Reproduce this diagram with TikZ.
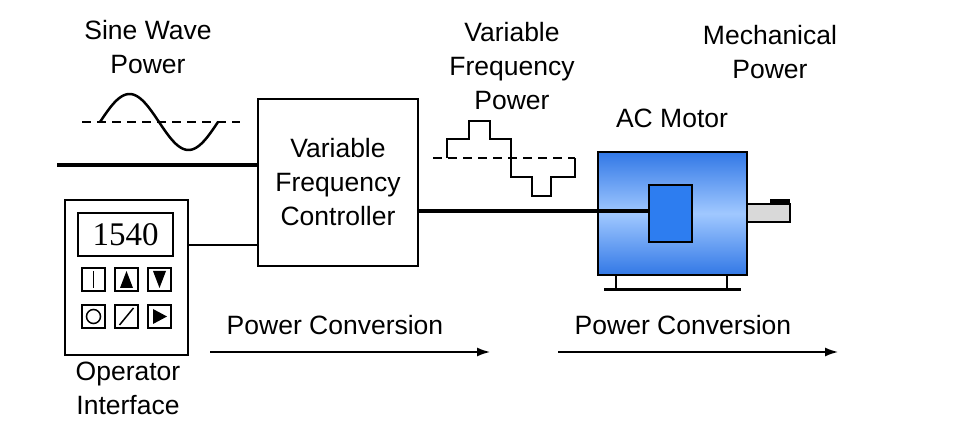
\documentclass[tikz,border=0pt]{standalone}
\usepackage{fontspec}
\setmainfont{Liberation Sans}
\newfontfamily\numserif{Liberation Serif}
\usetikzlibrary{arrows.meta}
\definecolor{mdark}{RGB}{50,120,230}
\definecolor{mlight}{RGB}{160,200,255}
\definecolor{rotc}{RGB}{45,125,240}
\begin{document}
\begin{tikzpicture}[x=1pt,y=-1pt,
  lbl/.style={font=\fontsize{26.5}{34}\selectfont,align=center},
  thick line/.style={line width=4pt},
  btn/.style={draw,line width=1.2pt,minimum width=23pt,minimum height=23pt,inner sep=0pt},
  arr/.style={line width=1.5pt,-{Latex[length=13pt,width=9pt]}}]
\useasboundingbox (0,0) rectangle (962,435);
% sine power
\node[lbl] (sw) at (148,47) {Sine Wave\\Power};
\draw[line width=1.5pt,dash pattern=on 9pt off 6pt] (82,122) -- (240,122);
\draw[line width=2.5pt,domain=0:118,samples=60,smooth] plot ({\x+100},{122-28*sin(\x*3.0508)});
% controller
\node[draw,line width=1.5pt,minimum width=160pt,minimum height=167pt,lbl,inner sep=0pt] (vfc) at (338,182.5) {Variable\\Frequency\\Controller};
\coordinate (in) at (57,165);
\draw[thick line] (in) -- (vfc.west |- in);
% operator interface
\node[draw,line width=2.5pt,minimum width=123pt,minimum height=155pt] (op) at (126.5,277.5) {};
\node[draw,line width=1.2pt,minimum width=95pt,minimum height=43pt,font=\fontsize{33}{33}\selectfont\numserif] (disp) at (125.5,234.5) {1540};
\node[btn] (b1) at (93.5,279.5) {};
\draw[line width=1.5pt] (93.5,271) -- (93.5,288);
\node[btn] (b2) at (126.5,279.5) {};
\fill (126.5,271) -- (133,288) -- (120,288) -- cycle;
\node[btn] (b3) at (159.5,279.5) {};
\fill (153,271) -- (166,271) -- (159.5,288) -- cycle;
\node[btn] (b4) at (93.5,316.5) {};
\draw[line width=1.5pt] (93.5,316.5) circle (7pt);
\node[btn] (b5) at (126.5,316.5) {};
\draw[line width=1.5pt] (119.5,325) -- (133.5,308);
\node[btn] (b6) at (159.5,316.5) {};
\fill (153,309) -- (167,316.5) -- (153,324) -- cycle;
\draw[line width=2pt] (op.east |- 0,245) -- (vfc.west |- 0,245);
\node[lbl] (oi) at (128,388) {Operator\\Interface};
% variable freq power
\node[lbl] (vfp) at (512,66) {Variable\\Frequency\\Power};
\draw[line width=1.5pt,dash pattern=on 9pt off 6pt] (433,158) -- (575,158);
\draw[line width=2.5pt] (447,158) -- (447,139) -- (469,139) -- (469,121) -- (490,121) -- (490,139) -- (511,139) -- (511,177) -- (532,177) -- (532,196) -- (551,196) -- (551,177) -- (575,177) -- (575,158);
% motor
\node[lbl] (acm) at (672,118) {AC Motor};
\node[lbl] (mp) at (770,52) {Mechanical\\Power};
\shade[top color=mdark,bottom color=mdark,middle color=mlight] (598,152) rectangle (747,275);
\node[draw,line width=2pt,minimum width=149pt,minimum height=123pt] (mot) at (672.5,213.5) {};
\node[draw,line width=2pt,fill=rotc,minimum width=43pt,minimum height=57pt] (rot) at (670.5,213.5) {};
\draw[thick line] (vfc.east |- 0,211) -- (rot.west |- 0,211);
\draw[line width=1.5pt,fill=black!15] (747,204) rectangle (790,222);
\fill (770,199) rectangle (790,204);
\draw[line width=2.5pt] (616,275) -- (616,290) (727,275) -- (727,290);
\draw[line width=3pt] (604,290) -- (741,290);
% conversions
\node[lbl] (pc1) at (335,325) {Power Conversion};
\node[lbl] (pc2) at (683,325) {Power Conversion};
\coordinate (a1) at (210,352); \coordinate (a2) at (490,352);
\coordinate (a3) at (558,352); \coordinate (a4) at (838,352);
\draw[arr] (a1) -- (a2);
\draw[arr] (a3) -- (a4);
\end{tikzpicture}
\end{document}
